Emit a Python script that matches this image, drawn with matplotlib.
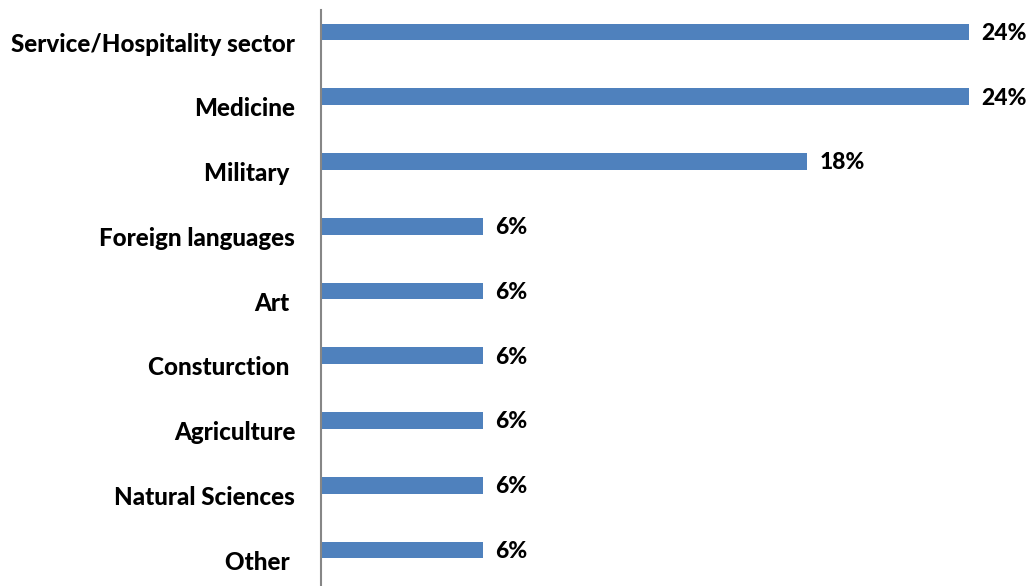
import matplotlib.pyplot as plt
import matplotlib.transforms as mtransforms

categories = [
    "Service/Hospitality sector",
    "Medicine",
    "Military ",
    "Foreign languages",
    "Art ",
    "Consturction ",
    "Agriculture",
    "Natural Sciences",
    "Other ",
]
shares = [24, 24, 18, 6, 6, 6, 6, 6, 6]
value_labels = ["24%", "24%", "18%", "6%", "6%", "6%", "6%", "6%", "6%"]

BAR_COLOR = "#4F81BD"
FONT = "Lato"
WEIGHT = 900

fig = plt.figure(figsize=(10.31, 5.86), dpi=100)
ax = fig.add_axes([321 / 1031, 0, 648 / 1031, 576 / 586])

pos = list(range(len(categories)))
ax.barh(pos, shares, height=0.26, color=BAR_COLOR)
ax.set_xlim(0, 24)
ax.set_ylim(8.556, -0.34)

for y, v, lab in zip(pos, shares, value_labels):
    ax.annotate(lab, (v, y), xytext=(9, -1), textcoords="offset points",
                ha="left", va="center", fontsize=16.5, fontweight=WEIGHT,
                family=FONT, annotation_clip=False)

ax.set_yticks(pos)
ax.set_yticklabels(categories, fontsize=17.4, fontweight=WEIGHT, family=FONT)
ax.tick_params(axis="y", length=0, pad=18.5)
ax.set_xticks([])

# labels sit a little below the bars, like the original
shift = mtransforms.ScaledTranslation(0, -10 / 100, fig.dpi_scale_trans)
for t in ax.get_yticklabels():
    t.set_transform(t.get_transform() + shift)

for side in ["top", "right", "bottom"]:
    ax.spines[side].set_visible(False)
ax.spines["left"].set_color("#868686")
ax.spines["left"].set_linewidth(1.5)

fig.savefig("out.png", dpi=100)
